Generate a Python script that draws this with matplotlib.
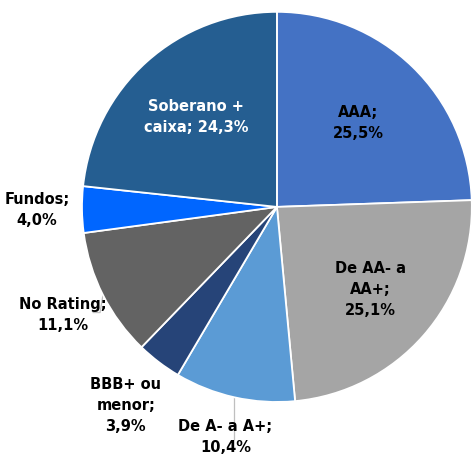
import numpy as np
import matplotlib.pyplot as plt

# composicao da carteira por rating
labels = ['AAA;\n25,5%', 'De AA- a\nAA+;\n25,1%', 'De A- a A+;\n10,4%',
          'BBB+ ou\nmenor;\n3,9%', 'No Rating;\n11,1%', 'Fundos;\n4,0%',
          'Soberano +\ncaixa; 24,3%']
values = [25.5, 25.1, 10.4, 3.9, 11.1, 4.0, 24.3]
colors = ['#4472C4', '#A5A5A5', '#5B9BD5', '#264478', '#636363', '#0066FF', '#255E91']
txt_colors = ['black'] * 6 + ['white']
lab_dist = [0.60, 0.64, 1.21, 1.28, 1.23, 1.23, 0.62]

fig = plt.figure(figsize=(4.72, 4.59), dpi=100)
ax = fig.add_axes([0.1737, 0.1242, 0.826, 0.85])

wedges, _ = ax.pie(values, colors=colors, startangle=90, counterclock=False,
                   wedgeprops=dict(edgecolor='white', linewidth=1.3))
ax.set_xlim(-1, 1)
ax.set_ylim(-1, 1)
ax.set_aspect('auto')

for w, lab, d, c in zip(wedges, labels, lab_dist, txt_colors):
    ang = np.deg2rad((w.theta1 + w.theta2) / 2)
    x, y = d * np.cos(ang), d * np.sin(ang)
    ax.text(x, y, lab, ha='center', va='center', fontsize=10.5, fontweight='bold',
            color=c, linespacing=1.5, clip_on=False, family='DejaVu Sans')

# linhas guia
w = wedges[2]
ang = np.deg2rad((w.theta1 + w.theta2) / 2)
x0, y0 = np.cos(ang), np.sin(ang)
ax.plot([x0, x0], [y0, -1.19], color='#BFBFBF', lw=0.9, clip_on=False, zorder=0)

w = wedges[4]
ang = np.deg2rad((w.theta1 + w.theta2) / 2)
x0, y0 = np.cos(ang), np.sin(ang)
ax.plot([x0, x0 - 0.015, x0 - 0.05], [y0, y0 - 0.09, y0 - 0.09],
        color='#BFBFBF', lw=0.9, clip_on=False, zorder=0)

fig.savefig('out.png', dpi=100)
